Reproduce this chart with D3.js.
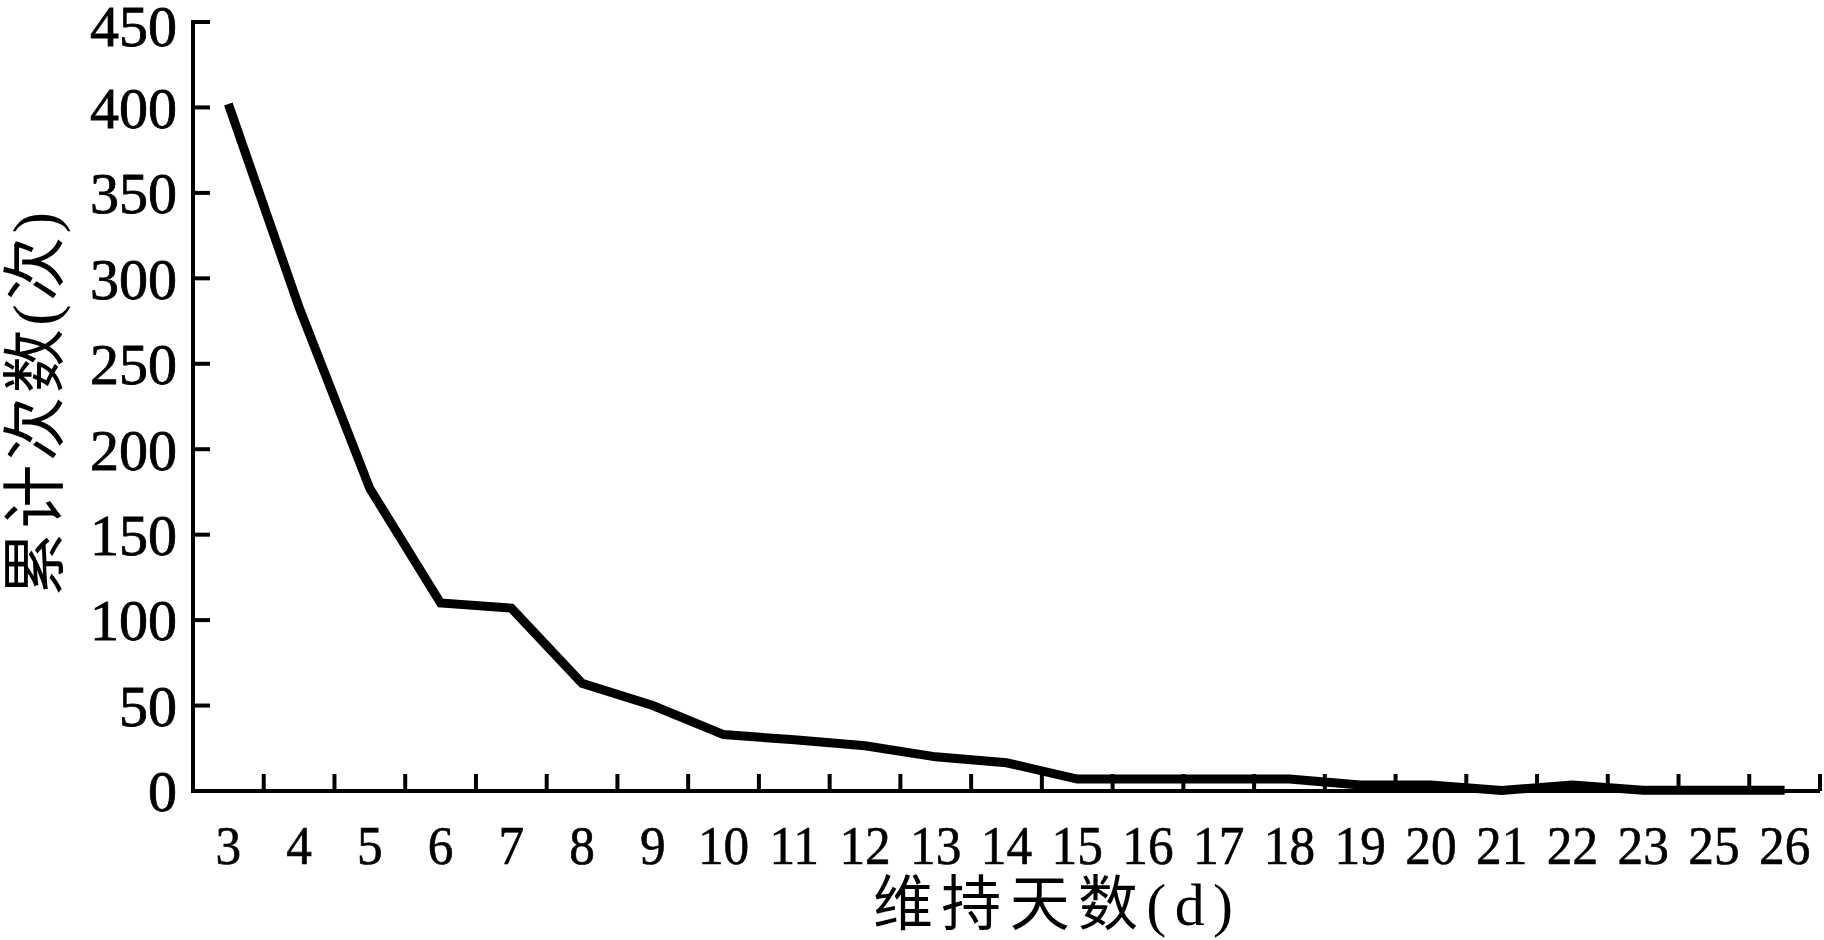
<!DOCTYPE html>
<html><head><meta charset="utf-8">
<script src="https://cdn.jsdelivr.net/npm/d3@7"></script>
<style>html,body{margin:0;padding:0;background:#fff;}svg{display:block;}</style>
</head><body>
<svg id="c" width="1824" height="940"></svg>
<script>
const categories = ["3","4","5","6","7","8","9","10","11","12","13","14","15","16","17","18","19","20","21","22","23","25","26"];
const values = [402,283,177,110,107,63,50,33,30,26.5,20,16.5,7,7,7,7,3.5,3.5,0.3,3.5,0.5,0.5,0.5];
const yTicks = [0,50,100,150,200,250,300,350,400,450];
const xTitle = "维持天数(d)";
const yTitle = "累计次数(次)";

(function(){
const svg = d3.select("#c");
const mLeft = 193, mRight = 1820, mTop = 22, mBottom = 791;
const x = d3.scaleBand().domain(categories).range([mLeft, mRight]).padding(0);
const y = d3.scaleLinear().domain([0, 450]).range([mBottom, mTop]);
const font = "'Liberation Serif','Times New Roman','Noto Sans CJK SC',serif";

svg.append("line").attr("x1", mLeft).attr("x2", mLeft).attr("y1", y(450) - 2).attr("y2", mBottom + 2)
  .attr("stroke", "#000").attr("stroke-width", 4);
svg.append("line").attr("x1", mLeft - 2).attr("x2", mRight).attr("y1", mBottom).attr("y2", mBottom)
  .attr("stroke", "#000").attr("stroke-width", 4);

svg.selectAll(".yt").data(yTicks.filter(d => d > 0)).enter().append("line")
  .attr("x1", mLeft).attr("x2", mLeft + 17).attr("y1", d => y(d)).attr("y2", d => y(d))
  .attr("stroke", "#000").attr("stroke-width", 4);
svg.selectAll(".yl").data(yTicks).enter().append("text")
  .attr("x", mLeft - 16).attr("y", d => y(d) + (d === 450 ? 4 : 0)).attr("dy", "0.35em")
  .attr("text-anchor", "end").attr("font-family", font).attr("font-size", 58)
  .attr("stroke", "#000").attr("stroke-width", 0.8)
  .text(d => d);

const bounds = categories.slice(1).map(c => x(c)).concat([mRight]);
svg.selectAll(".xt").data(bounds).enter().append("line")
  .attr("x1", d => d).attr("x2", d => d).attr("y1", mBottom).attr("y2", mBottom - 17)
  .attr("stroke", "#000").attr("stroke-width", 4);
svg.selectAll(".xl").data(categories).enter().append("text")
  .attr("transform", d => `translate(${x(d) + x.bandwidth() / 2},864) scale(0.95,1)`)
  .attr("text-anchor", "middle").attr("font-family", font).attr("font-size", 54)
  .attr("stroke", "#000").attr("stroke-width", 0.6)
  .text(d => d);

const line = d3.line().x((d, i) => x(categories[i]) + x.bandwidth() / 2).y(d => y(d));
svg.append("path").datum(values).attr("d", line).attr("fill", "none")
  .attr("stroke", "#000").attr("stroke-width", 9).attr("stroke-linejoin", "miter");

svg.append("text").attr("x", 1053).attr("y", 925)
  .attr("text-anchor", "middle").attr("font-family", font).attr("font-size", 60)
  .attr("textLength", 360).attr("lengthAdjust", "spacing").text(xTitle);
svg.append("text").attr("transform", "translate(57,404) rotate(-90)")
  .attr("text-anchor", "middle").attr("font-family", font).attr("font-size", 64)
  .attr("textLength", 384).attr("lengthAdjust", "spacing").text(yTitle);
})();
</script>
</body></html>
